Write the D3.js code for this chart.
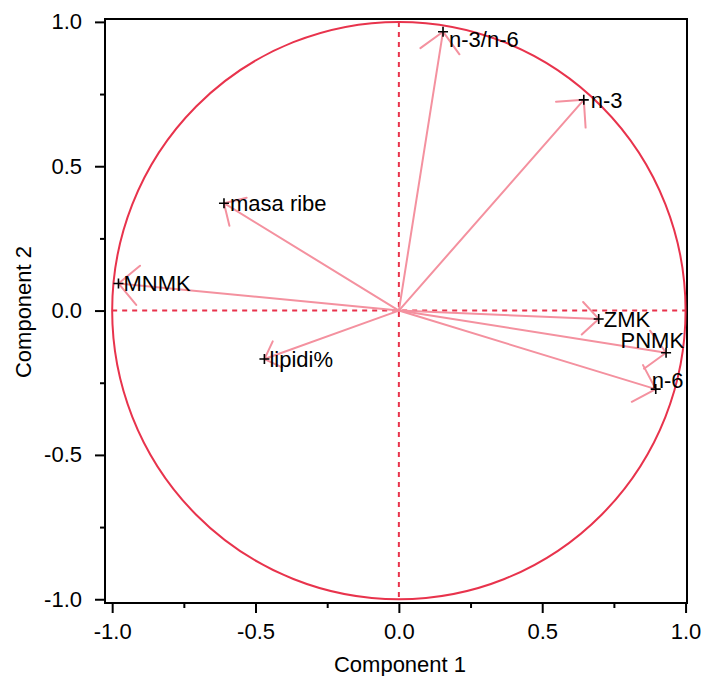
<!DOCTYPE html>
<html><head><meta charset="utf-8">
<script src="https://cdn.jsdelivr.net/npm/d3@7"></script>
<style>
body{margin:0;background:#fff}
svg{display:block}
text{font-family:"Liberation Sans",Arial,Helvetica,sans-serif;fill:#000}
</style>
</head><body><svg id="c" width="703" height="676"></svg>
<script>
// ---- data ----
const variables = ["n-3/n-6","n-3","masa ribe","MNMK","ZMK","PNMK","n-6","lipidi%"];
const comp1 = [0.154, 0.645, -0.610, -0.978, 0.697, 0.932, 0.896, -0.469];
const comp2 = [0.966, 0.730, 0.372, 0.094, -0.029, -0.146, -0.272, -0.168];
const majorTicks = [-1, -0.5, 0, 0.5, 1];
const tickLabels = ["-1.0", "-0.5", "0.0", "0.5", "1.0"];
const minorTicks = [-0.75, -0.25, 0.25, 0.75];
const xTitle = "Component 1";
const yTitle = "Component 2";

// ---- layout (label nudges in px, separate from data) ----
const labelNudge = {
  "n-3/n-6": [6, 8, "start"],
  "n-3": [7, 0, "start"],
  "masa ribe": [6, 0, "start"],
  "MNMK": [5, 0, "start"],
  "ZMK": [5, 0, "start"],
  "PNMK": [18, -12, "end"],
  "n-6": [-4, -9, "start"],
  "lipidi%": [5, 0, "start"]
};

const svg = d3.select("#c");
const L = 105, R = 687, T = 19, B = 603;
const x = d3.scaleLinear().domain([-1.025, 1.005]).range([L, R]);
const y = d3.scaleLinear().domain([-1.013, 1.01]).range([B, T]);

const RED = "#e8334c", PINK = "#f4919f";

// frame
svg.append("rect").attr("x", L).attr("y", T).attr("width", R - L).attr("height", B - T)
  .attr("fill", "none").attr("stroke", "#000").attr("stroke-width", 2);

// axes
const fmt = d => tickLabels[majorTicks.indexOf(d)];
const xa = svg.append("g").attr("transform", `translate(0,${B})`)
  .call(d3.axisBottom(x).tickValues(majorTicks).tickFormat(fmt).tickSize(10).tickSizeOuter(0).tickPadding(10));
const xm = svg.append("g").attr("transform", `translate(0,${B})`)
  .call(d3.axisBottom(x).tickValues(minorTicks).tickFormat("").tickSize(5).tickSizeOuter(0));
const ya = svg.append("g").attr("transform", `translate(${L},0)`)
  .call(d3.axisLeft(y).tickValues(majorTicks).tickFormat(fmt).tickSize(10).tickSizeOuter(0).tickPadding(13));
const ym = svg.append("g").attr("transform", `translate(${L},0)`)
  .call(d3.axisLeft(y).tickValues(minorTicks).tickFormat("").tickSize(5).tickSizeOuter(0));
[xa, xm, ya, ym].forEach(g => {
  g.select(".domain").remove();
  g.selectAll("line").attr("stroke", "#000").attr("stroke-width", 2);
  g.selectAll("text").attr("font-size", 22).style("font-family", '"Liberation Sans",Arial,sans-serif').attr("fill", "#000");
});

// titles
svg.append("text").attr("x", 400).attr("y", 672).attr("text-anchor", "middle")
  .attr("font-size", 22).text(xTitle);
svg.append("text").attr("transform", `translate(31,312) rotate(-90)`).attr("text-anchor", "middle")
  .attr("font-size", 22).text(yTitle);

// unit circle
svg.append("ellipse").attr("cx", x(0)).attr("cy", y(0))
  .attr("rx", x(1) - x(0)).attr("ry", y(0) - y(1))
  .attr("fill", "none").attr("stroke", RED).attr("stroke-width", 2);

// dashed reference lines
svg.append("line").attr("x1", x(-1)).attr("x2", x(1)).attr("y1", y(0)).attr("y2", y(0))
  .attr("stroke", RED).attr("stroke-width", 2).attr("stroke-dasharray", "5,5");
svg.append("line").attr("x1", x(0)).attr("x2", x(0)).attr("y1", y(1)).attr("y2", y(-1))
  .attr("stroke", RED).attr("stroke-width", 2).attr("stroke-dasharray", "5,5");

// arrows
const data = variables.map((v, i) => ({name: v, c1: comp1[i], c2: comp2[i]}));
const ox = x(0), oy = y(0);
const arrowPath = d => {
  const tx = x(d.c1), ty = y(d.c2);
  const dx = ox - tx, dy = oy - ty;
  const len = Math.hypot(dx, dy);
  const ux = dx / len, uy = dy / len;
  const a = 11 + 0.06 * len;
  const c = Math.SQRT1_2;
  const a1x = tx + a * (c * ux - c * uy), a1y = ty + a * (c * ux + c * uy);
  const a2x = tx + a * (c * ux + c * uy), a2y = ty + a * (-c * ux + c * uy);
  return `M${ox},${oy}L${tx},${ty}M${a1x},${a1y}L${tx},${ty}L${a2x},${a2y}`;
};
svg.append("g").selectAll("path").data(data).join("path")
  .attr("d", arrowPath).attr("fill", "none").attr("stroke", PINK).attr("stroke-width", 2)
  .attr("stroke-linecap", "round").attr("stroke-linejoin", "round");

// markers
svg.append("g").selectAll("path").data(data).join("path")
  .attr("d", d => { const tx = x(d.c1), ty = y(d.c2), s = 5;
    return `M${tx - s},${ty}H${tx + s}M${tx},${ty - s}V${ty + s}`; })
  .attr("stroke", "#000").attr("stroke-width", 1.6);

// labels
svg.append("g").selectAll("text").data(data).join("text")
  .attr("x", d => x(d.c1) + labelNudge[d.name][0])
  .attr("y", d => y(d.c2) + labelNudge[d.name][1])
  .attr("dy", "0.35em")
  .attr("text-anchor", d => labelNudge[d.name][2])
  .attr("font-size", 22)
  .text(d => d.name);
</script>
</body></html>
